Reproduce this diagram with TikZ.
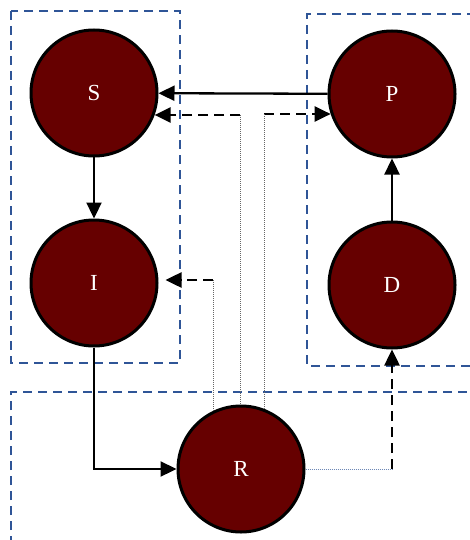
\documentclass[tikz,border=0pt]{standalone}
\usepackage{fontspec}
\setmainfont{Liberation Serif}
\usetikzlibrary{arrows.meta}
\definecolor{nodered}{HTML}{660000}
\definecolor{boxblue}{HTML}{2F5597}
\begin{document}
\begin{tikzpicture}[x=1pt,y=-1pt,
  state/.style={circle,draw=black,line width=3pt,fill=nodered,minimum size=126pt,inner sep=0pt,
    text=white,font=\fontsize{23}{27}\selectfont},
  group/.style={draw=boxblue,line width=2.2pt,dash pattern=on 9pt off 6pt},
  tip/.style={-{Triangle[length=16pt,width=15pt]}},
  flow/.style={tip,draw=black,line width=2.3pt},
  dflow/.style={tip,draw=black,line width=2.5pt,dash pattern=on 10pt off 6pt},
  link/.style={draw=gray!80!black,line width=0.9pt,dash pattern=on 1pt off 1pt},
]
\useasboundingbox (0,0) rectangle (470,540);

% grouping frames
\draw[group] (11,11) rectangle (180,363);
\draw[group] (476,14) -- (307,14) -- (307,366) -- (476,366);
\draw[group] (11,545) -- (11,392) -- (476,392);

% states
\node[state] (S) at (94,93) {S};
\node[state] (P) at (392,94) {P};
\node[state] (I) at (94,283) {I};
\node[state] (D) at (392,285) {D};
\node[state] (R) at (241,469) {R};

% junction points of the dashed/dotted routes
\coordinate (a1) at (240,115);
\coordinate (a2) at (264,114);
\coordinate (a3) at (213,280);
\coordinate (a4) at (D.south |- R.east);

% solid transitions
\draw[flow] (S) -- (I);
\draw[flow] (P) -- (S);
\draw[flow] (D) -- (P);
\draw[flow] (I.south) |- (R.west);

% dashed transitions
\draw[dflow] (a1) -- (S.-20 |- a1);
\draw[dflow] (a2) -- (P.198 |- a2);
\draw[dflow] (a3) -- ([xshift=7pt]I.east |- a3);
\draw[dflow] (a4) -- (D.south);

% dotted feeds from R
\draw[link] (a1) -- (a1 |- R.north);
\draw[link] (a2) -- (a2 |- R.69);
\draw[link] (a3) -- (a3 |- R.116);
\draw[link,draw=boxblue!70] (R.east) -- (a4);
\end{tikzpicture}
\end{document}
